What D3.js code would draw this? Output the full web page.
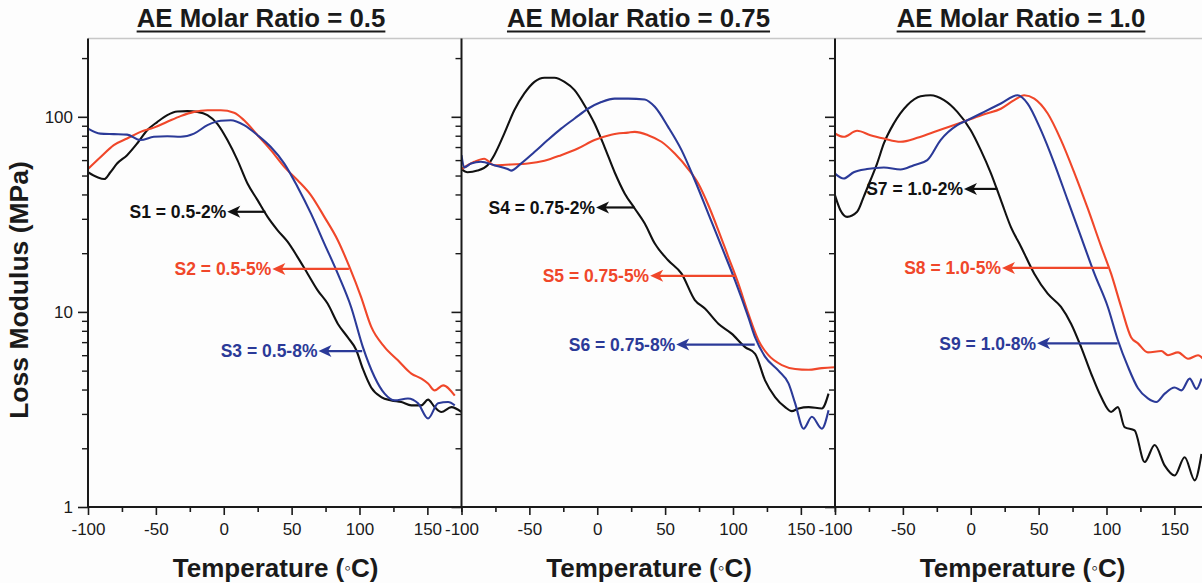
<!DOCTYPE html>
<html>
<head>
<meta charset="utf-8">
<script src="https://cdn.jsdelivr.net/npm/d3@7"></script>
<style>
  html, body { margin: 0; padding: 0; background: #fdfdfd; }
  svg { display: block; font-family: "Liberation Sans", Arial, sans-serif; }
</style>
</head>
<body>
<svg id="chart" width="1202" height="583"></svg>
<script>
// Panel titles and x-axis ticks
const panelTitles = ["AE Molar Ratio = 0.5", "AE Molar Ratio = 0.75", "AE Molar Ratio = 1.0"];
const xMajorTicks = [-100, -50, 0, 50, 100, 150];
const xMinorTicks = [-75, -25, 25, 75, 125, 175];
const yMajorTicks = [1, 10, 100];

// Loss modulus (MPa) vs temperature (°C), one array per sample
const s1 = [[-100,52],[-93,49],[-88,48],[-83.5,52],[-78.6,57.6],[-71.2,63.6],[-63.8,73],[-56.4,85.4],[-49,94],[-41.6,102],[-34.2,106.5],[-26.8,107],[-19.5,106],[-12,102],[-4.7,92],[2.7,76],[10.1,60],[17.5,45.5],[24.9,37.4],[32.3,30.7],[39.7,26.2],[47,22.9],[54.4,19.1],[61.8,15.7],[69.2,12.9],[76.6,11],[84,8.7],[91.4,7.4],[97.5,6.4],[102.5,5.1],[108.6,4.1],[116,3.66],[123.4,3.52],[130.8,3.45],[138.2,3.32],[145.6,3.32],[150.5,3.55],[155.4,3.25],[160.3,3.07],[167.7,3.25],[175,3.07]];
const s2 = [[-100,54],[-90.9,62],[-81,71.6],[-71.2,77.4],[-61.3,83.7],[-51.5,88],[-41.6,94.3],[-31.8,100.8],[-21.9,106],[-12,108],[-2.2,108],[7.6,105],[15,96],[24.9,80.5],[34.7,67.5],[44.6,55.4],[54.4,47.3],[64.3,39.6],[74.1,30.7],[84,23.3],[92.6,17],[101.2,11.9],[108.6,8.4],[118.5,6.6],[128.3,5.65],[138.2,4.83],[145.6,4.55],[150.5,4.3],[155.4,3.96],[161.6,4.2],[170.2,3.72]];
const s3 = [[-100,87],[-90.9,82],[-81,81.5],[-71.2,81],[-61.3,76],[-51.5,79],[-41.6,79.5],[-31.8,79],[-21.9,82],[-12,90.6],[-2.2,95.4],[5.2,96],[15,90.6],[24.9,80.5],[34.7,70],[44.6,57.6],[54.4,43.7],[64.3,31.9],[74.1,22.4],[84,15.7],[93.8,10.6],[102.5,6.6],[111.1,4.64],[118.5,3.81],[125.9,3.52],[135.7,3.6],[143.1,3.4],[150.5,2.84],[157.9,3.4],[165.3,3.45],[170.2,3.32]];
const s4 = [[-100,54],[-95.6,52],[-88.2,53],[-80.8,56.5],[-75.9,63.6],[-68.5,82],[-61.1,108],[-53.7,131.7],[-46.3,151],[-38.9,158.5],[-31.5,158.5],[-24.1,151],[-16.7,137],[-9.4,114.7],[-2,92.4],[5.4,70],[12.8,52],[20.2,40.5],[27.6,33.9],[35,28.4],[42.4,22.4],[52.2,18.4],[62.1,15.7],[71.9,11.5],[79.3,10.4],[89.2,8.7],[99,7.74],[108.9,6.6],[116.3,6.1],[123.6,4.46],[131,3.66],[138.4,3.25],[143.3,3.1],[148.3,3.2],[155.7,3.25],[165.5,3.2],[170.4,3.81]];
const s5 = [[-100,54],[-90.6,58.8],[-83.3,61],[-75.9,56.5],[-63.5,57],[-51.2,57.6],[-38.9,59.5],[-26.6,63.6],[-14.3,68.8],[-2,76],[10.3,81],[22.7,83],[27.6,83.7],[37.4,80.5],[47.3,74.5],[57.1,64.8],[67,54],[74.4,45.5],[81.8,35.3],[89.2,26.2],[96.6,19.1],[103.9,14],[111.3,9.8],[118.7,7.16],[126.1,6],[136,5.34],[145.8,5.1],[155.7,5.05],[165.5,5.15],[175,5.2]];
const s6 = [[-100,63.6],[-98,55],[-93,57.6],[-85.7,58.8],[-75.9,56.5],[-66,54],[-63.5,53],[-56.2,57.6],[-46.3,66],[-36.5,76],[-26.6,87],[-16.7,98],[-6.9,110],[3,119],[12.8,124],[22.7,124],[35,122.7],[42.4,112.5],[52.2,88.8],[62.1,67.5],[71.9,47.3],[81.8,31.9],[91.6,21.6],[101.5,14.5],[111.3,9.4],[116.3,7.4],[123.6,5.9],[133.5,5],[140.9,4.3],[145.8,3.4],[152,2.52],[158.1,2.9],[165.5,2.52],[170.4,3.13]];
const s7 = [[-100,39.6],[-96,33.2],[-91.1,30.7],[-83.7,32.6],[-78.8,39],[-73.9,47.3],[-69,57.6],[-64,73],[-56.7,92.4],[-46.8,114.7],[-36.9,127.6],[-29.6,129],[-19.7,121.7],[-9.9,106],[0,85.4],[7.4,67.5],[14.8,51.5],[22.2,37.4],[29.6,27.2],[37,21.6],[46.8,15.7],[56.7,12.4],[66.5,10.6],[73.9,8.7],[81.3,6.6],[88.7,4.83],[96.1,3.66],[103.4,3.07],[108.4,3.25],[113.3,2.57],[120.7,2.47],[128.1,1.7],[135.5,2.08],[142.9,1.63],[150.2,1.45],[157.6,1.8],[165,1.37],[170,1.87]];
const s8 = [[-100,82.2],[-93.6,79],[-83.7,84.8],[-73.9,80.5],[-64,77.4],[-51.7,74.5],[-39.4,78],[-27.1,83.7],[-14.8,89.5],[-2.5,96],[9.9,103],[22.2,110],[32,121.7],[39.4,129],[46.8,124],[56.7,104],[66.5,76],[76.4,51.5],[86.2,33.9],[96.1,21.6],[103.4,15.7],[110.8,10.6],[118.2,7.4],[123.2,6.9],[130.5,6.2],[140.4,6.3],[145.3,6],[152.7,6.2],[160.1,5.75],[167.5,6],[172,5.65]];
const s9 = [[-100,51.2],[-93.6,48.3],[-86.2,52],[-76.4,54],[-64,55],[-51.7,53.7],[-41.9,56.5],[-32,60],[-22.2,76],[-9.9,90.6],[-2.5,96],[9.9,106],[22.2,117],[34.5,129],[41.9,117],[51.7,85.4],[61.6,57.6],[71.4,37.4],[81.3,24.2],[91.1,15.7],[101,10.6],[108.4,7.16],[115.8,5.24],[123.2,4.06],[130.5,3.6],[136.7,3.45],[142.9,3.81],[150.2,4.1],[155.2,3.96],[161.3,4.55],[166.3,4.03],[170,4.55]];

// Series grouped by panel: black = 2 %, red = 5 %, blue = 8 %
const panelSeries = [[s1, s2, s3], [s4, s5, s6], [s7, s8, s9]];
const seriesColors = ["#111111", "#f0472a", "#2b3a98"];

// Labels with arrows: [text, value, arrow start temperature, arrow tip temperature]
const panelLabels = [
  [["S1 = 0.5-2%", 32.6, 30.7, 2.6], ["S2 = 0.5-5%", 16.6, 92.2, 35.8], ["S3 = 0.5-8%", 6.3, 102, 69.8]],
  [["S4 = 0.75-2%", 34.3, 27.4, -0.9], ["S5 = 0.75-5%", 15.3, 101.8, 39], ["S6 = 0.75-8%", 6.8, 116, 58.2]],
  [["S7 = 1.0-2%", 42.7, 19.6, -5], ["S8 = 1.0-5%", 16.8, 101.3, 23], ["S9 = 1.0-8%", 6.9, 108.2, 48.9]]
];

const svg = d3.select("#chart");
const panelLefts = [88, 461.5, 835];
const panelWidth = 373.3;
const plotTop = 38.5, plotBottom = 507;

const y = d3.scaleLog().domain([1, 252]).range([plotBottom, plotTop]);
const yMinor = [];
[1, 10, 100].forEach(d => { for (let k = 2; k <= 9; k++) if (d * k <= 252) yMinor.push(d * k); });

// plain hyphen-minus for negative tick values
const plainFormat = d => String(d);

// light top frame line across all panels
svg.append("line").attr("x1", panelLefts[0]).attr("x2", 1202)
  .attr("y1", plotTop).attr("y2", plotTop).attr("stroke", "#c8c8c8").attr("stroke-width", 1.5);

// clip paths, one per panel
const defs = svg.append("defs");
panelLefts.forEach((left, i) => {
  defs.append("clipPath").attr("id", "clip" + i).append("rect")
    .attr("x", left).attr("y", plotTop).attr("width", panelWidth).attr("height", plotBottom - plotTop);
});

const textColor = "#1a1a1a";

panelLefts.forEach((left, i) => {
  const x = d3.scaleLinear().domain([-100, 175]).range([left, left + panelWidth]);
  const g = svg.append("g");

  // curves
  const line = d3.line().x(d => x(d[0])).y(d => y(d[1])).curve(d3.curveMonotoneX);
  const cg = g.append("g").attr("clip-path", `url(#clip${i})`);
  panelSeries[i].forEach((s, j) => {
    cg.append("path").datum(s).attr("d", line)
      .attr("fill", "none").attr("stroke", seriesColors[j])
      .attr("stroke-width", 2.1).attr("stroke-linejoin", "round");
  });

  // x axis
  const xAxis = d3.axisBottom(x).tickValues(xMajorTicks).tickSize(8).tickPadding(8)
    .tickFormat(plainFormat);
  const xg = g.append("g").attr("transform", `translate(0,${plotBottom})`).call(xAxis);
  xg.select(".domain").remove();
  xg.selectAll(".tick line").attr("stroke", textColor).attr("stroke-width", 1.6);
  xg.selectAll(".tick text").attr("fill", textColor).attr("font-size", 17)
    .attr("font-family", "Liberation Sans, Arial, sans-serif");
  const xMinorG = g.append("g").attr("transform", `translate(0,${plotBottom})`)
    .call(d3.axisBottom(x).tickValues(xMinorTicks).tickSize(5).tickFormat(""));
  xMinorG.select(".domain").remove();
  xMinorG.selectAll(".tick line").attr("stroke", textColor).attr("stroke-width", 1.6);

  // y axis at the left edge of the panel
  const yAxis = d3.axisLeft(y).tickValues(yMajorTicks).tickSize(10).tickPadding(5)
    .tickFormat(i === 0 ? plainFormat : "");
  const yg = g.append("g").attr("transform", `translate(${left},0)`).call(yAxis);
  yg.select(".domain").remove();
  yg.selectAll(".tick line").attr("stroke", textColor).attr("stroke-width", 1.6);
  yg.selectAll(".tick text").attr("fill", textColor).attr("font-size", 17)
    .attr("font-family", "Liberation Sans, Arial, sans-serif");
  const yMinorG = g.append("g").attr("transform", `translate(${left},0)`)
    .call(d3.axisLeft(y).tickValues(yMinor).tickSize(6).tickFormat(""));
  yMinorG.select(".domain").remove();
  yMinorG.selectAll(".tick line").attr("stroke", textColor).attr("stroke-width", 1.4);

  g.append("line").attr("x1", left).attr("x2", left).attr("y1", plotTop).attr("y2", plotBottom + 1)
    .attr("stroke", textColor).attr("stroke-width", 2);

  // labels and arrows
  panelLabels[i].forEach((lab, j) => {
    const [txt, val, tStart, tTip] = lab;
    const yy = y(val), x0 = x(tStart), x1 = x(tTip);
    const col = seriesColors[j];
    g.append("line").attr("x1", x0).attr("x2", x1 + 8).attr("y1", yy).attr("y2", yy)
      .attr("stroke", col).attr("stroke-width", 2.2);
    g.append("path")
      .attr("d", `M${x1},${yy} L${x1 + 13},${yy - 6} L${x1 + 9.5},${yy} L${x1 + 13},${yy + 6} Z`)
      .attr("fill", col);
    g.append("text").attr("x", x1 - 1).attr("y", yy).attr("dy", "0.36em")
      .attr("text-anchor", "end").attr("fill", col)
      .attr("font-weight", "bold").attr("font-size", 17.5).text(txt);
  });

  // x axis title
  const cx = left + panelWidth / 2;
  const xt = g.append("text").attr("x", cx + 1).attr("y", 577)
    .attr("text-anchor", "middle").attr("fill", textColor)
    .attr("font-weight", "bold").attr("font-size", 26);
  xt.append("tspan").text("Temperature (");
  xt.append("tspan").attr("font-weight", "normal").attr("font-size", 19).attr("dy", -3).text("◦");
  xt.append("tspan").attr("dy", 3).text("C)");

  // panel title, underlined
  const titleX = [261, 638.5, 1021][i];
  const tt = g.append("text").attr("x", titleX).attr("y", 27)
    .attr("text-anchor", "middle").attr("fill", textColor)
    .attr("font-weight", "bold").attr("font-size", 25.8).text(panelTitles[i]);
  const bb = tt.node().getBBox();
  g.append("line").attr("x1", bb.x).attr("x2", bb.x + bb.width)
    .attr("y1", 31.5).attr("y2", 31.5).attr("stroke", textColor).attr("stroke-width", 2);
});

// shared bottom axis line
svg.append("line").attr("x1", panelLefts[0]).attr("x2", 1202).attr("y1", plotBottom).attr("y2", plotBottom)
  .attr("stroke", textColor).attr("stroke-width", 2);

// y axis title
svg.append("text").attr("transform", "translate(28,290) rotate(-90)")
  .attr("text-anchor", "middle").attr("fill", textColor)
  .attr("font-weight", "bold").attr("font-size", 26.5).text("Loss Modulus (MPa)");
</script>
</body>
</html>
